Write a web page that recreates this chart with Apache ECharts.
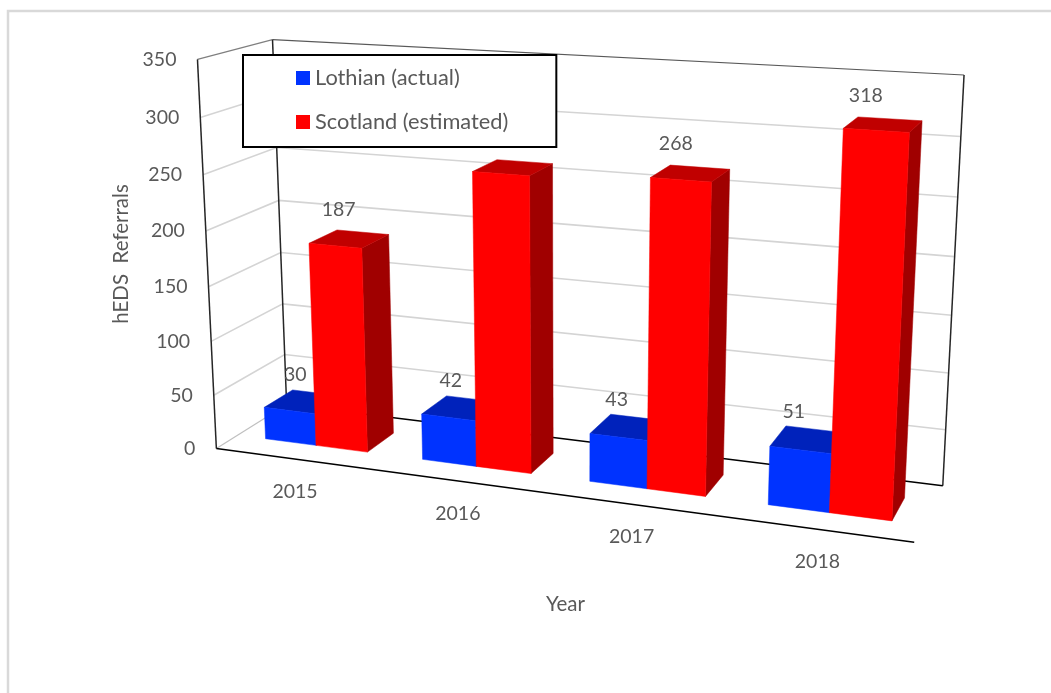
<!DOCTYPE html>
<html><head><meta charset="utf-8">
<style>html,body{margin:0;padding:0;background:#fff}#c{width:1051px;height:693px}</style>
<script src="https://cdn.jsdelivr.net/npm/echarts@6/dist/echarts.min.js"></script>
</head><body><div id="c"></div>
<script>
const categories = ['2015','2016','2017','2018'];
const lothian = [30,42,43,51];
const scotland = [187,262,268,318];
const scotlandLabelVisible = [true,false,true,true];
const yTicks = [0,50,100,150,200,250,300,350];

// camera: cube corners [u,v,w] to screen, fitted to one projective transform
const corners = [
 [0,0,0,217,449],[1,0,0,914,542],[0,0,1,286,404],[1,0,1,943,486],
 [0,1,0,197,59],[0,1,1,273,40],[1,1,1,964,75]
];
function fit(pts){
  const A=[],b=[];
  pts.forEach(p=>{const [X,Y,Z]=p,x=p[3]/1000,y=p[4]/1000;
    A.push([X,Y,Z,1,0,0,0,0,-x*X,-x*Y,-x*Z]);b.push(x);
    A.push([0,0,0,0,X,Y,Z,1,-y*X,-y*Y,-y*Z]);b.push(y);});
  const n=11,M=[];
  for(let i=0;i<n;i++){M.push([]);for(let j=0;j<n;j++){let s=0;A.forEach(r=>s+=r[i]*r[j]);M[i].push(s);}
    let s=0;A.forEach((r,k)=>s+=r[i]*b[k]);M[i].push(s);}
  for(let i=0;i<n;i++){let m=i;for(let k=i+1;k<n;k++)if(Math.abs(M[k][i])>Math.abs(M[m][i]))m=k;
    [M[i],M[m]]=[M[m],M[i]];
    for(let k=0;k<n;k++)if(k!==i){const f=M[k][i]/M[i][i];for(let j=i;j<=n;j++)M[k][j]-=f*M[i][j];}}
  return M.map((r,i)=>r[n]/r[i]);
}
const H=fit(corners);
function P(u,v,w){const d=H[8]*u+H[9]*v+H[10]*w+1;
  return [1000*(H[0]*u+H[1]*v+H[2]*w+H[3])/d,1000*(H[4]*u+H[5]*v+H[6]*w+H[7])/d];}

const W0=0.29,W1=0.70,BAR=0.082,SHIFT=0.003;
const FONT='19.5px Lato, sans-serif',TEXT='#595959',GRID='#D4D4D4';
function uv(params,api,cat,val){const r=params.coordSys,c=api.coord([cat,val]);
  return [(c[0]-r.x)/r.width,(r.y+r.height-c[1])/r.height];}
const poly=(points,fill)=>({type:'polygon',silent:true,shape:{points},style:{fill,stroke:fill,lineWidth:0.5}});
const line=(points,stroke,lw)=>({type:'polyline',silent:true,shape:{points},style:{fill:'none',stroke,lineWidth:lw}});
const txt=(p,text,align)=>({type:'text',silent:true,x:p[0],y:p[1],style:{text,fill:TEXT,font:FONT,textAlign:align||'center',textVerticalAlign:'middle',verticalAlign:'middle'}});

function barRender(side,colors,showLabel,lx,ly){
  return function(params,api){
    const i=api.value(0),val=api.value(1);
    const t=uv(params,api,i,val),uc=t[0]+SHIFT,v=t[1];
    const u0=side<0?uc-BAR:uc,u1=side<0?uc:uc+BAR;
    const f=[P(u0,0,W0),P(u1,0,W0),P(u1,v,W0),P(u0,v,W0)];
    const top=[P(u0,v,W0),P(u1,v,W0),P(u1,v,W1),P(u0,v,W1)];
    const sideFace=[P(u1,0,W0),P(u1,0,W1),P(u1,v,W1),P(u1,v,W0)];
    const children=[poly(sideFace,colors[2]),poly(top,colors[1]),poly(f,colors[0])];
    if(showLabel(i)){const b=P((u0+u1)/2,v,W1);children.push(txt([b[0]+lx,b[1]+ly],String(val)));}
    return {type:'group',children};
  };
}
const option={
  animation:false,
  backgroundColor:'#fff',
  grid:{left:207,top:59,width:717,height:390,containLabel:false},
  xAxis:{type:'category',data:categories,name:'Year',nameLocation:'middle',nameGap:145,
    nameTextStyle:{fontFamily:'Lato',fontSize:20.5,color:TEXT},
    axisLine:{show:false},axisTick:{show:false},axisLabel:{show:false},splitLine:{show:false}},
  yAxis:{type:'value',min:0,max:350,interval:50,name:'hEDS  Referrals',nameLocation:'middle',nameGap:75,
    nameTextStyle:{fontFamily:'Lato',fontSize:20.5,color:TEXT},
    axisLine:{show:false},axisTick:{show:false},axisLabel:{show:false},splitLine:{show:false}},
  legend:{orient:'vertical',left:243,top:55,selectedMode:false,padding:[12,48,14,53],itemGap:22,
    itemWidth:14,itemHeight:14,backgroundColor:'#fff',borderColor:'#000',borderWidth:2,borderRadius:0,
    textStyle:{fontFamily:'Lato',fontSize:21.8,color:TEXT},
    data:[{name:'Lothian (actual)',icon:'rect',itemStyle:{color:'#0033FF'}},
          {name:'Scotland (estimated)',icon:'rect',itemStyle:{color:'#FF0000'}}]},
  graphic:[{type:'polyline',silent:true,z:-1,shape:{points:[[8,693],[8,11],[1051,11]]},style:{fill:'none',stroke:'#D9D9D9',lineWidth:2.5}}],
  series:[
    {type:'custom',name:'gridlines',coordinateSystem:'cartesian2d',silent:true,
     data:yTicks.map(t=>[0,t]),encode:{x:0,y:1},
     renderItem(params,api){
       const val=api.value(1),v=uv(params,api,0,val)[1],ch=[];
       if(val>0&&val<350) ch.push(line([P(0,v,0),P(0,v,1),P(1,v,1)],GRID,1.6));
       const p=P(0,v,0);ch.push(txt([p[0]-21,p[1]],String(val),'right'));
       return {type:'group',children:ch};
     }},
    {type:'custom',name:'walls',coordinateSystem:'cartesian2d',silent:true,
     data:[[0,0]],encode:{x:0,y:1},
     renderItem(){
       return {type:'group',children:[
         line([P(0,0,0),P(0,0,1)],'#BFBFBF',1.2),
         line([P(0,1,0),P(0,1,1)],'#7F7F7F',1.2),
         line([P(0,1,1),P(1,1,1)],'#595959',1.2),
         line([P(0,0,1),P(0,1,1)],'#262626',1.5),
         line([P(1,0,1),P(1,1,1)],'#262626',1.5),
         line([P(0,0,0),P(0,1,0)],'#262626',1.5),
         line([P(0,0,1),P(1,0,1)],'#000',1.5),
         line([P(0,0,0),P(1,0,0)],'#000',1.5)
       ]};
     }},
    {type:'custom',name:'categoryLabels',coordinateSystem:'cartesian2d',silent:true,
     data:categories.map((c,i)=>[i,0]),encode:{x:0,y:1},
     renderItem(params,api){
       const i=api.value(0),u=uv(params,api,i,0)[0],p=P(u,0,0);
       return txt([p[0]+1,p[1]+33],categories[i]);
     }},
    {type:'custom',name:'Lothian (actual)',coordinateSystem:'cartesian2d',silent:true,
     data:lothian.map((d,i)=>[i,d]),encode:{x:0,y:1},
     renderItem:barRender(-1,['#0033FF','#0022BB','#001A99'],()=>true,-22,-18)},
    {type:'custom',name:'Scotland (estimated)',coordinateSystem:'cartesian2d',silent:true,
     data:scotland.map((d,i)=>[i,d]),encode:{x:0,y:1},
     renderItem:barRender(1,['#FF0000','#C00000','#A00000'],i=>scotlandLabelVisible[i],-24,-23)}
  ]
};
echarts.init(document.getElementById('c'),null,{renderer:'canvas'}).setOption(option);
</script></body></html>
